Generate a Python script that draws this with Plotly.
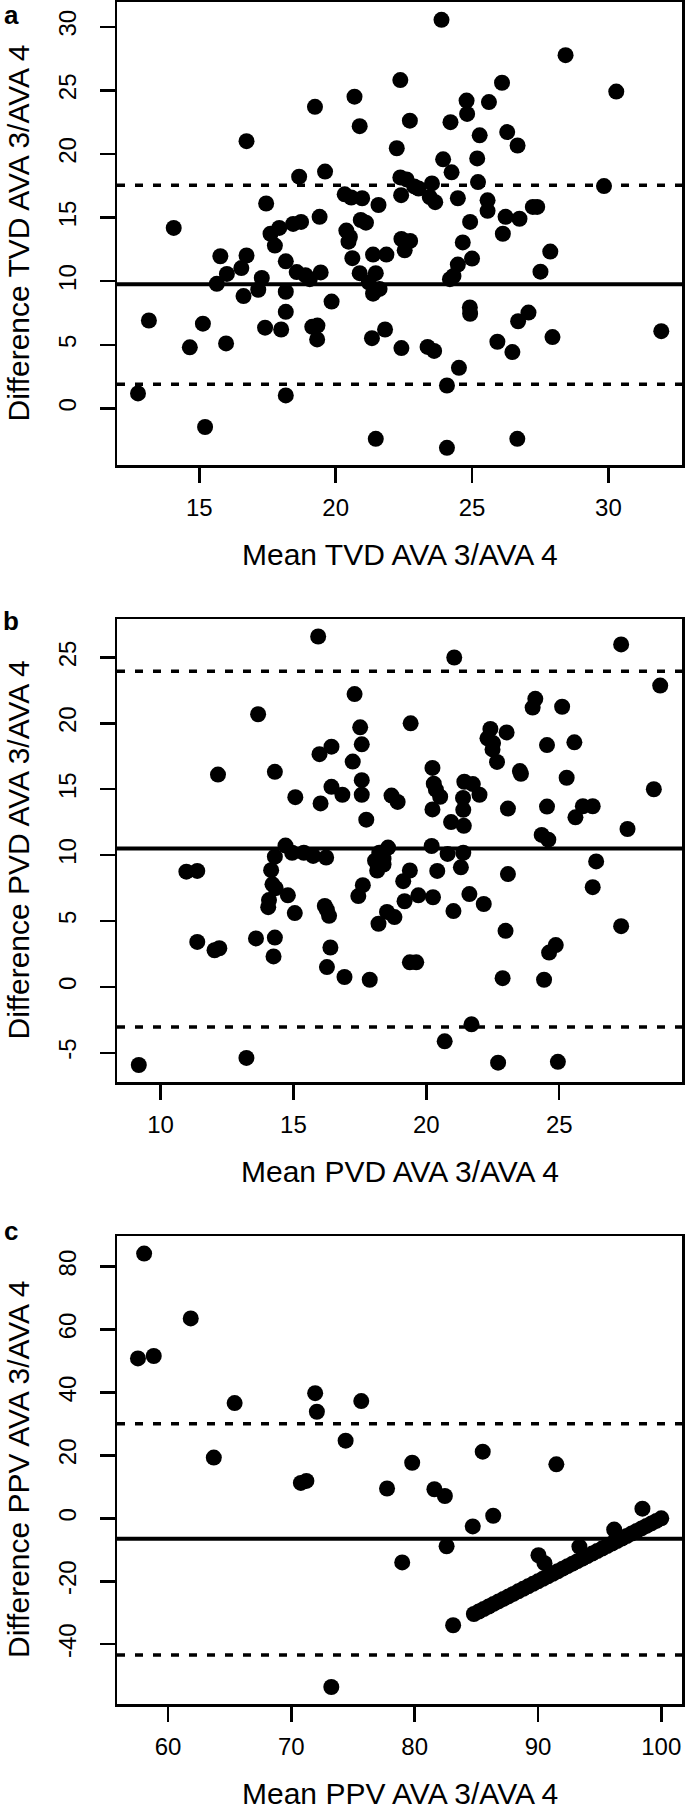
import plotly.graph_objects as go

# ---------------- data ----------------
# Panel a: TVD
a_mean = [23.88, 28.43, 22.37, 26.10, 30.29, 20.69, 24.80, 25.62, 19.24, 24.82,
          22.72, 24.21, 20.88, 26.29, 25.28, 16.73, 26.67, 22.24, 23.94, 25.19,
          24.25, 19.61, 18.66, 22.37, 22.60, 25.22, 23.53, 22.88, 29.84, 23.04,
          22.40, 23.45, 23.65, 20.33, 20.57, 20.97, 24.48, 25.57, 17.45, 21.57,
          25.57, 27.23, 27.39, 26.23, 26.74, 19.41, 24.93, 14.06, 18.73, 18.44,
          17.93, 17.61, 20.92, 21.11, 20.39, 20.52, 20.47, 26.13, 22.41, 22.73,
          22.53, 24.66, 17.77, 27.87, 21.37, 21.86, 15.77, 16.73, 20.61, 25.00,
          18.17, 24.48, 16.54, 27.51, 16.01, 18.57, 18.89, 19.45, 20.88, 21.47,
          24.32, 24.19, 17.29, 15.64, 19.05, 21.21, 17.16, 18.17, 21.37, 21.61,
          16.62, 19.85, 13.15, 15.13, 18.17, 17.41, 18.00, 19.14, 19.33, 19.32,
          21.33, 21.81, 24.92, 24.93, 27.07, 26.69, 31.94, 14.65, 15.98, 22.41,
          23.37, 23.61, 25.93, 27.95, 26.48, 24.52, 12.75, 24.08, 18.17, 15.21,
          21.47, 26.66, 24.08]
a_diff = [30.55, 27.77, 25.81, 25.60, 24.91, 24.51, 24.20, 24.08, 23.71, 23.15,
          22.62, 22.50, 22.19, 21.72, 21.47, 21.01, 20.67, 20.45, 19.58, 19.65,
          18.56, 18.62, 18.22, 18.16, 18.00, 17.79, 17.69, 17.45, 17.48, 17.29,
          16.76, 16.61, 16.21, 16.83, 16.58, 16.52, 16.52, 16.36, 16.11, 15.99,
          15.53, 15.84, 15.84, 15.06, 14.91, 15.06, 14.66, 14.19, 14.66, 14.50,
          14.19, 13.73, 14.81, 14.60, 13.98, 13.48, 13.11, 13.73, 13.32, 13.17,
          12.43, 13.05, 12.80, 12.33, 12.09, 12.09, 11.96, 12.02, 11.81, 11.78,
          11.56, 11.31, 11.03, 10.75, 10.57, 10.72, 10.47, 10.69, 10.63, 10.63,
          10.41, 10.16, 10.26, 9.79, 10.16, 9.92, 9.33, 9.17, 9.02, 9.39,
          8.83, 8.40, 6.91, 6.66, 7.59, 6.35, 6.20, 6.41, 6.51, 5.42,
          5.52, 6.20, 7.93, 7.44, 7.53, 6.85, 6.07, 4.80, 5.11, 4.74,
          4.83, 4.52, 5.24, 5.61, 4.43, 3.19, 1.18, 1.80, 1.02, -1.46,
          -2.39, -2.39, -3.10]
a_bias, a_upper, a_lower = 9.76, 17.55, 1.89

# Panel b: PVD
b_mean = [15.93, 27.33, 21.05, 28.80, 17.30, 24.10, 24.00, 25.11, 13.67, 19.41,
          17.51, 22.41, 23.02, 22.30, 22.51, 25.57, 17.57, 24.54, 16.43, 22.49,
          15.98, 22.66, 17.23, 20.23, 23.52, 23.56, 14.30, 12.16, 25.28, 21.43,
          21.75, 20.28, 17.57, 16.43, 20.36, 28.56, 17.57, 16.84, 15.07, 18.69,
          20.52, 22.00, 21.38, 18.92, 16.02, 23.07, 24.54, 20.23, 21.39, 25.89,
          26.26, 25.61, 17.74, 20.93, 21.41, 27.57, 24.34, 24.59, 14.70, 14.95,
          15.39, 15.74, 16.23, 14.30, 18.56, 18.23, 18.39, 20.20, 20.80, 21.39,
          18.07, 18.39, 18.15, 26.39, 10.97, 11.38, 14.16, 19.38, 20.41, 21.30,
          23.07, 19.13, 17.61, 14.21, 14.33, 26.26, 17.44, 14.79, 19.70, 20.25,
          21.62, 14.08, 14.05, 19.18, 22.16, 16.18, 16.26, 16.34, 15.05, 21.02,
          18.52, 18.80, 18.20, 27.33, 22.98, 11.38, 13.59, 14.30, 12.03, 12.21,
          16.39, 24.87, 24.62, 14.25, 19.38, 19.62, 16.26, 16.92, 17.87, 22.87,
          24.43, 21.70, 20.69, 13.23, 9.18, 22.70, 24.95]
b_diff = [26.59, 25.99, 25.00, 22.87, 22.22, 21.86, 21.20, 21.26, 20.69, 20.00,
          19.70, 19.58, 19.31, 18.86, 18.50, 18.56, 18.41, 18.35, 18.23, 18.02,
          17.66, 17.07, 17.10, 16.62, 16.38, 16.17, 16.32, 16.11, 15.87, 15.57,
          15.39, 15.42, 15.69, 15.18, 14.97, 15.00, 14.58, 14.58, 14.40, 14.52,
          14.43, 14.58, 14.34, 14.04, 13.92, 13.53, 13.68, 13.47, 13.44, 13.71,
          13.71, 12.87, 12.69, 12.51, 12.22, 11.98, 11.53, 11.17, 10.72, 10.18,
          10.18, 9.94, 9.82, 9.88, 10.57, 10.18, 9.73, 10.69, 10.09, 10.18,
          9.58, 9.28, 8.83, 9.52, 8.74, 8.80, 8.86, 8.83, 8.80, 9.07,
          8.56, 8.02, 7.72, 7.78, 7.49, 7.57, 6.89, 6.95, 6.95, 6.80,
          7.04, 6.59, 6.05, 6.50, 6.29, 6.14, 5.84, 5.39, 5.60, 5.75,
          5.69, 5.30, 4.79, 4.61, 4.25, 3.41, 3.68, 3.74, 2.78, 2.93,
          2.99, 3.17, 2.60, 2.31, 1.86, 1.86, 1.50, 0.75, 0.54, 0.66,
          0.54, -2.84, -4.13, -5.39, -5.93, -5.75, -5.69]
b_bias, b_upper, b_lower = 10.5, 23.95, -3.05

# Panel c: PPV
c_mean = [58.06, 61.84, 57.56, 58.84, 65.40, 71.93, 72.07, 75.67, 74.40, 63.71,
          85.52, 91.49, 79.80, 70.77, 71.22, 77.76, 81.60, 82.45, 98.47, 86.37,
          84.71, 82.59, 78.99, 83.12, 73.24, 90.04, 90.53, 93.36, 96.18,
          84.8, 85.2, 85.6, 86.0, 86.4, 86.8, 87.2, 87.6, 88.0, 88.4,
          88.8, 89.2, 89.6, 90.0, 90.4, 90.8, 91.2, 91.6, 92.0, 92.4,
          92.8, 93.2, 93.6, 94.0, 94.4, 94.8, 95.2, 95.6, 96.0, 96.4,
          96.8, 97.2, 97.6, 98.0, 98.4, 98.8, 99.2, 99.6, 100.0]
c_diff = [84.15, 63.54, 50.85, 51.60, 36.65, 39.79, 33.88, 37.28, 24.71, 19.31,
          21.19, 17.17, 17.67, 11.26, 11.89, 9.50, 9.25, 7.11, 3.09, 0.83,
          -2.56, -8.85, -13.99, -33.97, -53.6, -11.73, -14.24, -8.97, -3.57,
          -30.4, -29.6, -28.8, -28.0, -27.2, -26.4, -25.6, -24.8, -24.0, -23.2,
          -22.4, -21.6, -20.8, -20.0, -19.2, -18.4, -17.6, -16.8, -16.0, -15.2,
          -14.4, -13.6, -12.8, -12.0, -11.2, -10.4, -9.6, -8.8, -8.0, -7.2,
          -6.4, -5.6, -4.8, -4.0, -3.2, -2.4, -1.6, -0.8, 0.0]
c_bias, c_upper, c_lower = -6.5, 30.1, -43.4

# tick values / labels
a_xticks = [15, 20, 25, 30]
a_yticks = [0, 5, 10, 15, 20, 25, 30]
b_xticks = [10, 15, 20, 25]
b_yticks = [-5, 0, 5, 10, 15, 20, 25]
c_xticks = [60, 70, 80, 90, 100]
c_yticks = [-40, -20, 0, 20, 40, 60, 80]

panel_labels = ["a", "b", "c"]
x_titles = ["Mean TVD AVA 3/AVA 4", "Mean PVD AVA 3/AVA 4", "Mean PPV AVA 3/AVA 4"]
y_titles = ["Difference TVD AVA 3/AVA 4", "Difference PVD AVA 3/AVA 4",
            "Difference PPV AVA 3/AVA 4"]

# ---------------- layout geometry (pixels) ----------------
W, H = 685, 1815
FONT = "Liberation Sans, Arial, Helvetica, sans-serif"
TICK_SIZE = 24
TITLE_SIZE = 30
x_left, x_right = 117, 682
panels_px = [(2, 465), (619, 1082), (1236, 1704)]  # top, bottom
label_centers = [15, 621, 1231]
ranges = [
    ([11.98, 32.70], [-4.45, 31.95]),
    ([8.36, 29.62], [-7.22, 27.92]),
    ([55.86, 101.68], [-59.0, 89.75]),
]
data = [(a_mean, a_diff, a_bias, a_upper, a_lower, a_xticks, a_yticks),
        (b_mean, b_diff, b_bias, b_upper, b_lower, b_xticks, b_yticks),
        (c_mean, c_diff, c_bias, c_upper, c_lower, c_xticks, c_yticks)]

fig = go.Figure()
annotations = []
shapes = []


def lab(v):
    return ("-" + str(abs(v))) if v < 0 else str(v)


for i, ((top, bot), (xr, yr), (mx, dy, bias, up, lo, xt, yt)) in enumerate(
        zip(panels_px, ranges, data)):
    n = "" if i == 0 else str(i + 1)
    xa, ya = "x" + n, "y" + n
    fig.add_trace(go.Scatter(
        x=mx, y=dy, mode="markers", xaxis=xa, yaxis=ya,
        marker=dict(size=16, color="black", line=dict(width=0)),
        showlegend=False, hoverinfo="skip"))
    axis_common = dict(showline=True, linewidth=2.5, linecolor="black",
                       mirror=True, ticks="outside", ticklen=15, tickwidth=2.5,
                       tickcolor="black", showgrid=False, zeroline=False,
                       tickfont=dict(family=FONT, size=TICK_SIZE, color="black"))
    fig.update_layout(**{
        ("xaxis" + n): dict(domain=[x_left / W, x_right / W], range=xr,
                            anchor=ya, tickvals=xt, ticktext=[lab(v) for v in xt],
                            ticklabelstandoff=5, **axis_common),
        ("yaxis" + n): dict(domain=[1 - bot / H, 1 - top / H], range=yr,
                            anchor=xa, tickvals=yt, ticktext=[lab(v) for v in yt],
                            tickangle=-90, ticklabelstandoff=14, **axis_common),
    })
    xd = xa + " domain"
    shapes.append(dict(type="line", xref=xd, yref=ya, x0=0, x1=1, y0=bias, y1=bias,
                       line=dict(color="black", width=4), layer="below"))
    for v in (up, lo):
        shapes.append(dict(type="line", xref=xd, yref=ya, x0=0, x1=1, y0=v, y1=v,
                           line=dict(color="black", width=3.5, dash="8px,10px"),
                           layer="below"))
    # axis titles
    annotations.append(dict(text=x_titles[i], xref="paper", yref="paper",
                            x=(x_left + x_right) / 2 / W, y=1 - (bot + 89) / H,
                            xanchor="center", yanchor="middle", showarrow=False,
                            font=dict(family=FONT, size=TITLE_SIZE, color="black")))
    annotations.append(dict(text=y_titles[i], xref="paper", yref="paper",
                            x=18 / W, y=1 - (top + bot) / 2 / H, textangle=-90,
                            xanchor="center", yanchor="middle", showarrow=False,
                            font=dict(family=FONT, size=TITLE_SIZE, color="black")))
    annotations.append(dict(text="<b>" + panel_labels[i] + "</b>", xref="paper",
                            yref="paper", x=11 / W, y=1 - label_centers[i] / H,
                            xanchor="center", yanchor="middle", showarrow=False,
                            font=dict(family=FONT, size=26, color="black")))

fig.update_layout(width=W, height=H, margin=dict(l=0, r=0, t=0, b=0),
                  paper_bgcolor="white", plot_bgcolor="white",
                  annotations=annotations, shapes=shapes, showlegend=False)
fig.write_html("out.html",
               config={"displayModeBar": False, "staticPlot": True},
               post_script="document.body.style.margin='0px';"
                           "document.body.style.overflow='hidden';")
